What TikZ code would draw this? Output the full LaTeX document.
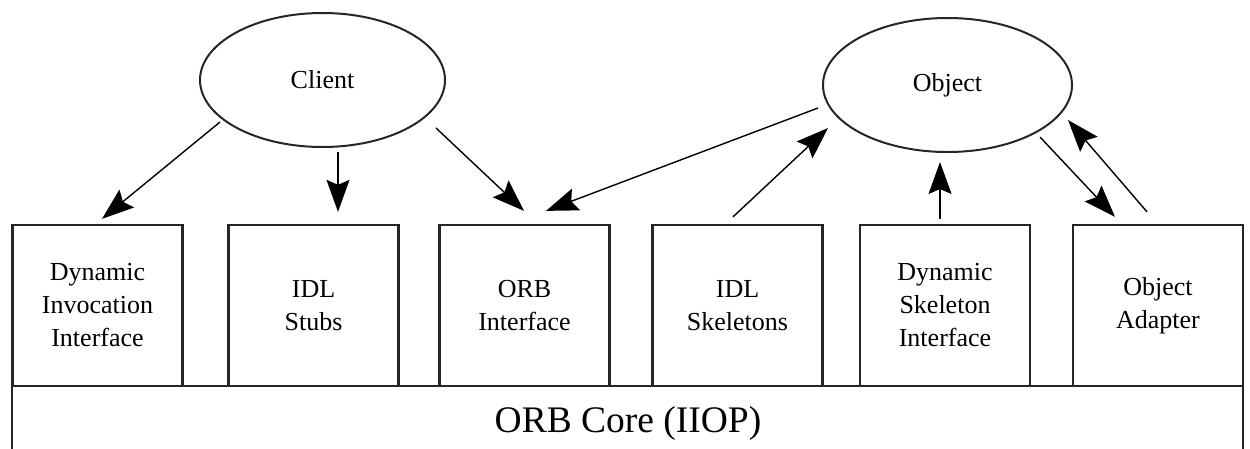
\documentclass[tikz,border=0pt]{standalone}
\usepackage{fontspec}
\setmainfont{Liberation Serif}
\usetikzlibrary{arrows.meta,calc,shapes.geometric}
\begin{document}
\begin{tikzpicture}[x=1pt,y=-1pt,
  layerbox/.style={draw=black!85, line width=2.3pt, minimum width=170pt,
    minimum height=161pt, inner sep=0pt, align=center,
    font=\fontsize{26}{33}\selectfont},
  actor/.style={draw=black!85, line width=2pt, ellipse, minimum height=134pt,
    inner sep=0pt, font=\fontsize{26}{30}\selectfont},
  call/.style={draw=black, line width=1.4pt,
    -{Stealth[length=32pt,width=23pt,inset=5pt]}},
]
\useasboundingbox (0,0) rectangle (1250,448);
\clip (0,0) rectangle (1250,448);
\fill[white] (0,0) rectangle (1250,448);

% ORB core layer (runs past the lower edge)
\node[draw=black!85, line width=2.3pt, minimum width=1231pt, minimum height=80pt,
      inner sep=0pt] (core) at (627.5,426) {};
\node[font=\fontsize{37.5}{40}\selectfont, anchor=base] (corelabel) at (628,432)
      {ORB Core (IIOP)};

% component boxes sitting on the core
\node[layerbox] (dii)  at (97.5,305.5)  {Dynamic\\Invocation\\Interface};
\node[layerbox] (stubs) at (313.5,305.5) {IDL\\Stubs};
\node[layerbox] (orbi) at (524.5,305.5) {ORB\\Interface};
\node[layerbox] (skel) at (737.5,305.5) {IDL\\Skeletons};
\node[layerbox] (dsi)  at (945,305.5)   {Dynamic\\Skeleton\\Interface};
\node[layerbox] (oa)   at (1158,305.5)  {Object\\Adapter};

% client and object
\node[actor, minimum width=245pt] (client) at (322.5,80) {Client};
\node[actor, minimum width=249pt] (object) at (947.5,85) {Object};

% client side calls
\draw[call] ($(client.center)+(-102.5,42)$) -- ($(dii.north)+(4.5,-5)$);
\draw[call] ($(client.center)+(15.5,72)$) -- ($(stubs.north)+(24.5,-12)$);
\draw[call] ($(client.center)+(113.5,48)$) -- ($(orbi.north)+(-0.5,-13)$);

% object side calls
\draw[call] ($(object.center)+(-129.5,23)$) -- ($(orbi.north)+(21.5,-13)$);
\draw[call] ($(skel.north)+(-4.5,-7)$) -- ($(object.center)+(-119.5,43)$);
\draw[call] ($(dsi.north)+(-5,-5)$) -- ($(object.center)+(-7.5,77)$);
\draw[call] ($(object.center)+(92.5,52)$) -- ($(oa.north)+(-43,-7)$);
\draw[call] ($(oa.north)+(-11,-12)$) -- ($(object.center)+(120.5,35)$);
\end{tikzpicture}
\end{document}
